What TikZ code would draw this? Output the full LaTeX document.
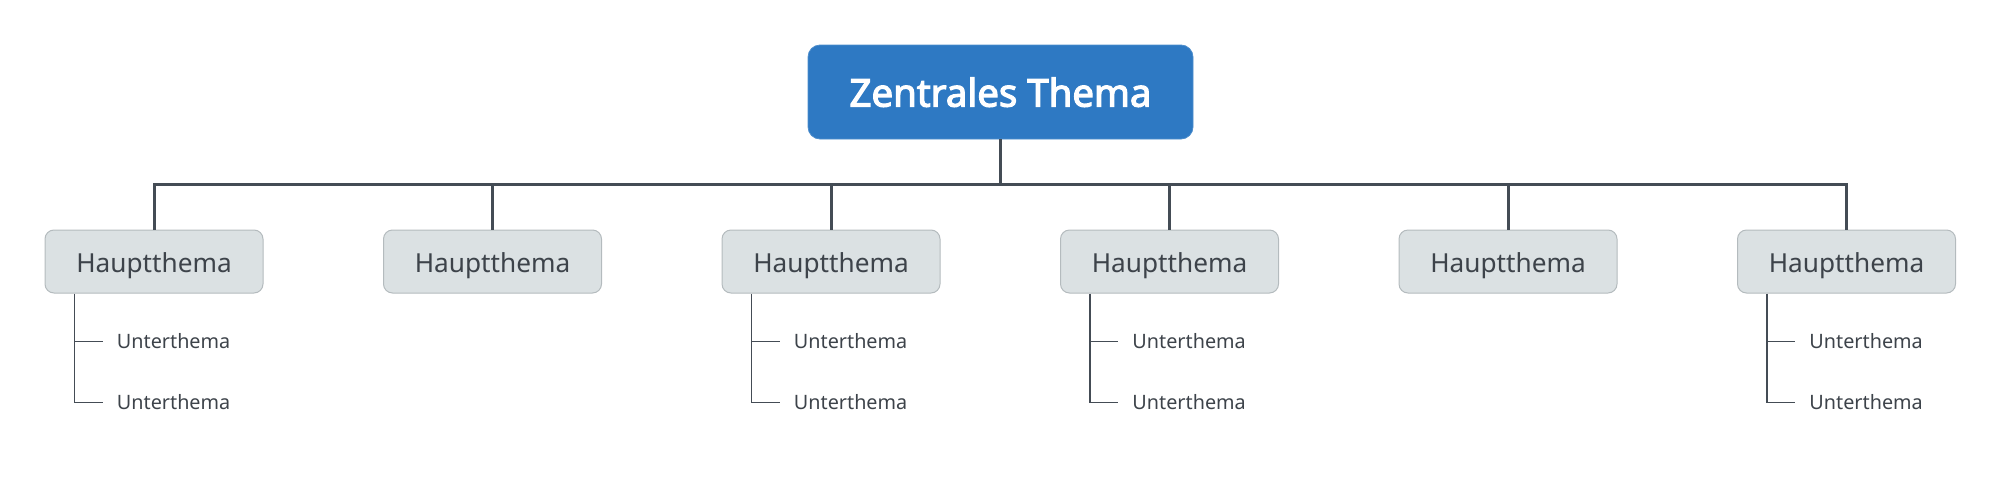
\documentclass[tikz,border=0pt]{standalone}
\usepackage{fontspec}
\setmainfont{Noto Sans}
\newfontfamily\cfont{Noto Sans}[AutoFakeBold=3]
\usetikzlibrary{calc}
\definecolor{cblue}{HTML}{2E79C3}
\definecolor{mfill}{HTML}{DBE1E3}
\definecolor{mdraw}{HTML}{B4BBBE}
\definecolor{lcol}{HTML}{444C55}
\definecolor{tcol}{HTML}{3D434A}
\tikzset{
  central/.style={fill=cblue, draw=cblue!85!white, rounded corners=6pt, minimum width=192.5pt, minimum height=47pt, inner sep=0pt,
    text=white, font=\cfont\fontsize{19.2}{19.2}\selectfont\bfseries, text height=14.6pt, text depth=0pt},
  mainbox/.style={fill=mfill, draw=mdraw, line width=0.5pt, rounded corners=4.5pt, minimum width=109pt, minimum height=31.5pt, inner sep=0pt,
    text=tcol, font=\fontsize{13.1}{13.1}\selectfont, text height=10.9pt, text depth=0pt},
  subtext/.style={anchor=west, inner sep=0pt, text=tcol, font=\fontsize{9.9}{9.9}\selectfont, text height=7pt, text depth=0pt},
  thick link/.style={draw=lcol, line width=1.5pt},
  thin link/.style={draw=lcol, line width=0.75pt},
}
\begin{document}
\begin{tikzpicture}[x=0.5pt, y=-0.5pt]
\useasboundingbox (0,0) rectangle (2002,477);
\node[central] (c) at (1000.5,92) {Zentrales Thema};
\coordinate (bar) at (1000.5,184);
\foreach \i/\x in {1/154, 2/492.5, 3/831, 4/1169.5, 5/1508, 6/1846.5} {
  \node[mainbox] (m\i) at (\x,261.5) {Hauptthema};
}
\draw[thick link] (c.south) -- (bar);
\draw[thick link] (m1.north) -- (m1.north |- bar) -- (m6.north |- bar) -- (m6.north);
\foreach \i in {2,3,4,5} {
  \draw[thick link] (m\i.north) -- (m\i.north |- bar);
}
\foreach \i in {1,3,4,6} {
  \coordinate (s\i) at ($(m\i.south west)+(30,0)$);
  \node[subtext] (u\i a) at ($(m\i.south west)+(72,48)$) {Unterthema};
  \node[subtext] (u\i b) at ($(m\i.south west)+(72,109)$) {Unterthema};
  \draw[thin link] (s\i) |- ($(u\i b.west)+(-14,0)$);
  \draw[thin link] (s\i |- u\i a.west) -- ($(u\i a.west)+(-14,0)$);
}
\end{tikzpicture}
\end{document}
